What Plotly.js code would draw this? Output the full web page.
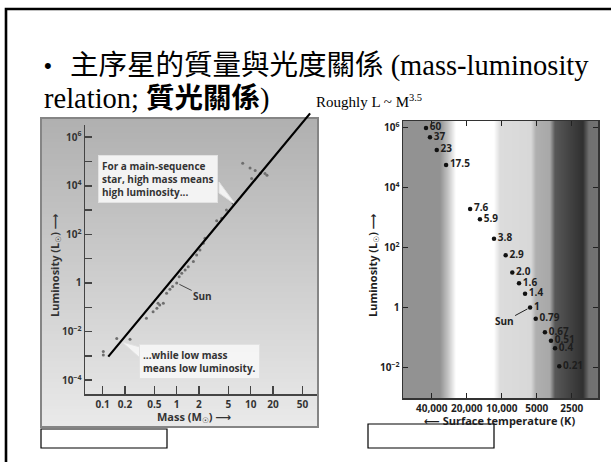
<!DOCTYPE html>
<html><head><meta charset="utf-8">
<script src="https://cdn.plot.ly/plotly-3.0.1.min.js"></script>
<style>html,body{margin:0;padding:0;background:#fff;} #chart{width:611px;height:462px;}</style>
</head><body><div id="chart"></div>
<script>
// ---------- Left chart: mass-luminosity data (solar units) ----------
const massPts = [7.8, 9.8, 11.5, 13.5, 16.6, 10.3, 15.6, 5.8, 4.7, 4.06, 3.47, 2.41, 2.29, 2.06, 1.86, 1.68, 1.43, 1.30, 1.17, 1.08, 1.0, 0.88, 0.81, 0.73, 0.66, 0.59, 0.56, 0.54, 0.48, 0.39, 0.234, 0.155, 0.102, 0.102];
const lumPts  = [8.4e4, 5.4e4, 4.2e4, 3.3e4, 2.7e4, 2.0e4, 3.2e4, 1.9e3, 1.0e3, 457, 363, 69, 43, 23, 14, 7.6, 4.7, 3.4, 2.5, 1.8, 1.0, 0.71, 0.55, 0.38, 0.145, 0.123, 0.145, 0.091, 0.066, 0.035, 0.0048, 0.0052, 0.0015, 0.0011];
const fitMass = [0.119, 66];
const fitLum  = [9.3e-4, 1.1e7];
const massTicks = [0.1, 0.2, 0.5, 1, 2, 5, 10, 20, 50];
const massTickText = ['0.1', '0.2', '0.5', '1', '2', '5', '10', '20', '50'];
const lumTicksL = [1e-4, 1e-3, 1e-2, 1e-1, 1, 10, 1e2, 1e3, 1e4, 1e5, 1e6];
const lumTickTextL = ['10<sup>−4</sup>', ' ', '10<sup>−2</sup>', ' ', '1', ' ', '10<sup>2</sup>', ' ', '10<sup>4</sup>', ' ', '10<sup>6</sup>'];

// ---------- Right chart: main-sequence stars ----------
const starMass = ['60', '37', '23', '17.5', '7.6', '5.9', '3.8', '2.9', '2.0', '1.6', '1.4', '1', '0.79', '0.67', '0.51', '0.4', '0.21'];
const starTemp = [44800, 41400, 36200, 30100, 18700, 15400, 11650, 9250, 8110, 7100, 6300, 5700, 5100, 4250, 3770, 3480, 3200];
const starLum  = [9.8e5, 4.8e5, 1.81e5, 5.7e4, 1950, 885, 195, 55.8, 14.7, 6.5, 2.86, 1, 0.42, 0.15, 0.078, 0.044, 0.011];
const tempTicks = [40000, 20000, 10000, 5000, 2500];
const tempTickText = ['40,000', '20,000', '10,000', '5000', '2500'];
const lumTicksR = [1e-2, 1, 1e2, 1e4, 1e6];
const lumTickTextR = ['10<sup>−2</sup>', '1', '10<sup>2</sup>', '10<sup>4</sup>', '10<sup>6</sup>'];

// ---------- helpers (pixel -> paper) ----------
const W = 611, H = 462;
const px = x => x / W;
const py = y => 1 - y / H;
const L10 = Math.log10;
const gray = v => { v = Math.round(Math.max(0, Math.min(255, v))); return 'rgb(' + v + ',' + v + ',' + v + ')'; };
const SANS = 'Open Sans, Noto Sans, DejaVu Sans, sans-serif';
const SERIF = 'Liberation Serif, Noto Sans CJK TC, serif';
const lab = (size, color) => ({family: SANS, size: size, color: color || '#333', weight: 700});

const shapes = [];
// left panel vertical gradient
for (let y = 118; y < 427; y += 3) {
  shapes.push({type: 'rect', xref: 'paper', yref: 'paper', layer: 'below',
    x0: px(41), x1: px(318), y0: py(Math.min(y + 3.5, 427)), y1: py(y),
    fillcolor: gray(176 + (y - 118) / 309 * 58), line: {width: 0}});
}
shapes.push({type: 'rect', xref: 'paper', yref: 'paper', layer: 'below',
  x0: px(41), x1: px(318), y0: py(427), y1: py(118), line: {color: '#858585', width: 2}});

// right chart spectral background bands (pixel x, gray level)
const bandStops = [[403, 146], [440, 146], [448, 195], [456, 255], [494, 255], [500, 220], [531, 216], [536, 175], [550, 168], [555, 88], [570, 66], [583, 48], [589, 112], [598, 114]];
function bandGray(x) {
  for (let i = 0; i < bandStops.length - 1; i++) {
    const a = bandStops[i], b = bandStops[i + 1];
    if (x >= a[0] && x <= b[0]) return a[1] + (b[1] - a[1]) * (x - a[0]) / (b[0] - a[0]);
  }
  return bandStops[bandStops.length - 1][1];
}
for (let x = 403; x < 598; x += 1) {
  shapes.push({type: 'rect', xref: 'paper', yref: 'paper', layer: 'below',
    x0: px(x), x1: px(Math.min(x + 1.6, 598)), y0: py(398), y1: py(121),
    fillcolor: gray(bandGray(x + 0.5)), line: {width: 0}});
}
// callout tails (left chart)
shapes.push({type: 'path', xref: 'paper', yref: 'paper', layer: 'above',
  path: 'M' + px(219) + ',' + py(182) + ' L' + px(236) + ',' + py(205) + ' L' + px(219) + ',' + py(193) + ' Z',
  fillcolor: 'rgba(246,246,246,0.95)', line: {color: 'rgba(225,225,225,1)', width: 1}});
shapes.push({type: 'path', xref: 'paper', yref: 'paper', layer: 'above',
  path: 'M' + px(140) + ',' + py(347) + ' L' + px(122) + ',' + py(342) + ' L' + px(140) + ',' + py(358) + ' Z',
  fillcolor: 'rgba(246,246,246,0.95)', line: {color: 'rgba(225,225,225,1)', width: 1}});
// bottom caption boxes
shapes.push({type: 'rect', xref: 'paper', yref: 'paper', x0: px(41), x1: px(167), y0: py(448), y1: py(429), fillcolor: '#fff', line: {color: '#000', width: 1.2}});
shapes.push({type: 'rect', xref: 'paper', yref: 'paper', x0: px(368), x1: px(494), y0: py(448), y1: py(424), fillcolor: '#fff', line: {color: '#000', width: 1.2}});
// slide frame
shapes.push({type: 'rect', xref: 'paper', yref: 'paper', x0: px(6), x1: px(700), y0: py(600), y1: py(9), line: {color: '#000', width: 2.6}});

const traces = [
  {x: massPts, y: lumPts, type: 'scatter', mode: 'markers', xaxis: 'x', yaxis: 'y', cliponaxis: false,
   marker: {size: 3, color: '#6e6e6e'}, hoverinfo: 'skip'},
  {x: starTemp, y: starLum, type: 'scatter', mode: 'markers+text', xaxis: 'x2', yaxis: 'y2', cliponaxis: false,
   text: starMass, textposition: 'middle right', textfont: lab(10, '#1e1e1e'),
   marker: {size: 4.5, color: '#111'}, hoverinfo: 'skip'}
];

const axBase = {type: 'log', showgrid: false, zeroline: false, showline: true, ticks: 'inside', fixedrange: true};
const txt = (x, y, text, font, extra) => Object.assign({xref: 'paper', yref: 'paper', x: px(x), y: py(y),
  xanchor: 'center', yanchor: 'middle', showarrow: false, text: text, font: font}, extra || {});

const annotations = [
  txt(42, 66, '•', {family: 'Liberation Sans, sans-serif', size: 22, color: '#000'}, {xanchor: 'left'}),
  txt(68, 66, '主序星的質量與光度關係 (mass-luminosity', {family: SERIF, size: 28.5, color: '#000'}, {xanchor: 'left'}),
  txt(42, 99, 'relation; <b>質光關係</b>)', {family: SERIF, size: 28.5, color: '#000'}, {xanchor: 'left'}),
  txt(314, 101, 'Roughly L ~ M<sup>3.5</sup>', {family: SERIF, size: 15, color: '#000'}, {xanchor: 'left'}),
  // fit line L ~ M^3.5
  {xref: 'x', yref: 'y', axref: 'x', ayref: 'y', x: L10(fitMass[0]), y: L10(fitLum[0]),
   ax: L10(fitMass[1]), ay: L10(fitLum[1]), text: '', showarrow: true, arrowhead: 0,
   arrowwidth: 2.2, arrowcolor: '#000', standoff: 0, startstandoff: 0},
  // left chart callouts
  txt(98, 155, 'For a main-sequence<br>star, high mass means<br>high luminosity...', lab(10),
   {xanchor: 'left', yanchor: 'top', align: 'left', bgcolor: 'rgba(246,246,246,0.95)', bordercolor: '#e2e2e2', borderwidth: 1, borderpad: 3}),
  txt(139, 344, '...while low mass<br>means low luminosity.', lab(10),
   {xanchor: 'left', yanchor: 'top', align: 'left', bgcolor: 'rgba(246,246,246,0.95)', bordercolor: '#e2e2e2', borderwidth: 1, borderpad: 3}),
  {xref: 'x', yref: 'y', x: 0, y: 0, text: 'Sun', showarrow: true, arrowhead: 0, arrowwidth: 1, arrowcolor: '#444',
   ax: 26, ay: 13, standoff: 3, font: lab(10)},
  {xref: 'x2', yref: 'y2', x: L10(5700), y: 0, text: 'Sun', showarrow: true, arrowhead: 0, arrowwidth: 1, arrowcolor: '#222',
   ax: -26, ay: 14, standoff: 3, font: lab(10, '#1e1e1e')},
  // axis titles
  txt(55, 265, 'Luminosity (L<sub>☉</sub>) ⟶', lab(11), {textangle: -90}),
  txt(194, 417, 'Mass (M<sub>☉</sub>) ⟶', lab(11)),
  txt(373, 265, 'Luminosity (L<sub>☉</sub>) ⟶', lab(11, '#1e1e1e'), {textangle: -90}),
  txt(499, 420, '⟵ Surface temperature (K)', lab(11, '#1e1e1e'))
];

const layout = {
  width: W, height: H, margin: {l: 0, r: 0, t: 0, b: 0},
  paper_bgcolor: '#fff', plot_bgcolor: 'rgba(0,0,0,0)', showlegend: false,
  xaxis: Object.assign({}, axBase, {domain: [px(85), px(317)], anchor: 'y', range: [-1.239, 1.896],
    tickvals: massTicks, ticktext: massTickText, ticklen: 8, tickwidth: 1.5, tickcolor: '#444',
    linecolor: '#444', linewidth: 1.5, tickfont: lab(10)}),
  yaxis: Object.assign({}, axBase, {domain: [py(394), py(125)], anchor: 'x', range: [-4.568, 6.50],
    tickvals: lumTicksL, ticktext: lumTickTextL, ticklen: 7, tickwidth: 1.5, tickcolor: '#444',
    linecolor: '#444', linewidth: 1.5, tickfont: lab(10)}),
  xaxis2: Object.assign({}, axBase, {domain: [px(403), px(598)], anchor: 'y2', range: [4.849, 3.172],
    tickvals: tempTicks, ticktext: tempTickText, ticklen: 5, tickwidth: 1.3, tickcolor: '#222',
    linecolor: '#333', linewidth: 1.5, mirror: 'ticks', tickfont: lab(10, '#1e1e1e')}),
  yaxis2: Object.assign({}, axBase, {domain: [py(398), py(121)], anchor: 'x2', range: [-3.02, 6.223],
    tickvals: lumTicksR, ticktext: lumTickTextR, ticklen: 5, tickwidth: 1.3, tickcolor: '#222',
    linecolor: '#333', linewidth: 1.5, mirror: 'ticks', tickfont: lab(10, '#1e1e1e')}),
  shapes: shapes, annotations: annotations
};

Plotly.newPlot('chart', traces, layout, {staticPlot: true, displayModeBar: false});
</script></body></html>
